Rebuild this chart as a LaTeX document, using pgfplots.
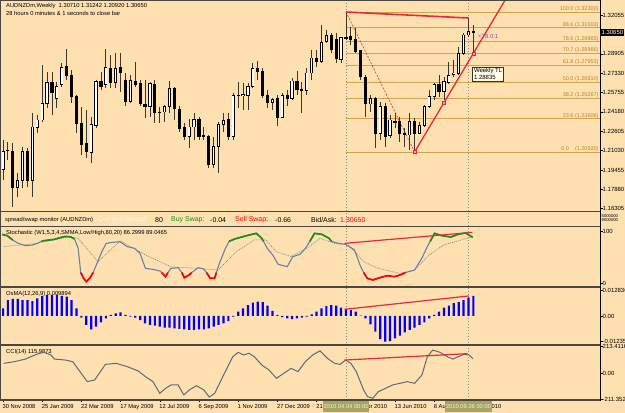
\documentclass[border=0pt]{standalone}
\usepackage{pgfplots}
\pgfplotsset{compat=1.18}
\usepackage{pgfplotstable}
\usepackage{fontspec}
\setmainfont{Liberation Sans}
\newcommand\fs[1]{\fontsize{#1}{#1}\selectfont}
\definecolor{bgc}{HTML}{FFE0B0}
\definecolor{fibc}{HTML}{D4A24C}
\definecolor{fibt}{HTML}{B8862A}
\definecolor{tlred}{HTML}{E8283C}
\definecolor{pinkf}{HTML}{F4A0A8}
\definecolor{stblue}{HTML}{6683A6}
\definecolor{stgreen}{HTML}{1E8C1E}
\definecolor{ccic}{HTML}{5F6A76}
\definecolor{olivebox}{HTML}{A5A463}
\definecolor{olivetext}{HTML}{F6F2D2}
\definecolor{sepc}{HTML}{4A4640}
\definecolor{wick}{HTML}{3A3630}
\definecolor{purp}{HTML}{A040A8}
\definecolor{pale}{HTML}{FFF3E2}
\definecolor{tlbox}{HTML}{FFFBE6}

\pgfplotstableread{
i o h l c
0 1.1946 1.2189 1.1864 1.2092
1 1.2100 1.2173 1.2027 1.2108
2 1.2092 1.2165 1.1645 1.1807
3 1.1807 1.1921 1.1726 1.1864
4 1.1864 1.2133 1.1799 1.2092
5 1.2092 1.2124 1.1807 1.1864
6 1.1864 1.2409 1.1726 1.2295
7 1.2287 1.2392 1.2246 1.2352
8 1.2352 1.2799 1.2336 1.2490
9 1.2490 1.2742 1.2449 1.2653
10 1.2653 1.2742 1.2392 1.2572
11 1.2523 1.2661 1.2449 1.2628
12 1.2637 1.2815 1.2620 1.2775
13 1.2783 1.2929 1.2677 1.2710
14 1.2710 1.2758 1.2490 1.2539
15 1.2547 1.2555 1.2246 1.2327
16 1.2327 1.2458 1.2067 1.2149
17 1.2157 1.2433 1.2043 1.2092
18 1.2084 1.2376 1.2002 1.2319
19 1.2311 1.2677 1.2287 1.2661
20 1.2669 1.2742 1.2596 1.2628
21 1.2637 1.2929 1.2612 1.2775
22 1.2767 1.2880 1.2612 1.2653
23 1.2653 1.2897 1.2612 1.2767
24 1.2775 1.2897 1.2580 1.2734
25 1.2677 1.2734 1.2466 1.2506
26 1.2506 1.2718 1.2490 1.2677
27 1.2669 1.2824 1.2620 1.2637
28 1.2645 1.2677 1.2466 1.2490
29 1.2482 1.2677 1.2368 1.2458
30 1.2458 1.2661 1.2376 1.2645
31 1.2637 1.2677 1.2327 1.2409
32 1.2409 1.2458 1.2327 1.2417
33 1.2417 1.2474 1.2336 1.2458
34 1.2458 1.2669 1.2409 1.2612
35 1.2612 1.2620 1.2352 1.2449
36 1.2441 1.2466 1.2255 1.2279
37 1.2287 1.2327 1.2189 1.2214
38 1.2214 1.2360 1.2124 1.2295
39 1.2295 1.2409 1.2189 1.2360
40 1.2360 1.2376 1.2189 1.2214
41 1.2222 1.2295 1.2189 1.2214
42 1.2214 1.2230 1.1962 1.1994
43 1.1994 1.2214 1.1962 1.2133
44 1.2133 1.2336 1.1921 1.2319
45 1.2319 1.2409 1.2255 1.2344
46 1.2360 1.2409 1.2189 1.2214
47 1.2214 1.2572 1.2189 1.2555
48 1.2555 1.2661 1.2449 1.2547
49 1.2547 1.2653 1.2433 1.2563
50 1.2555 1.2653 1.2433 1.2628
51 1.2628 1.2815 1.2612 1.2767
52 1.2767 1.2832 1.2677 1.2750
53 1.2750 1.2775 1.2531 1.2555
54 1.2555 1.2596 1.2449 1.2498
55 1.2498 1.2531 1.2433 1.2515
56 1.2523 1.2555 1.2303 1.2376
57 1.2376 1.2572 1.2368 1.2555
58 1.2555 1.2596 1.2466 1.2523
59 1.2523 1.2694 1.2515 1.2669
60 1.2669 1.2750 1.2555 1.2596
61 1.2604 1.2661 1.2409 1.2588
62 1.2588 1.2775 1.2555 1.2734
63 1.2734 1.2921 1.2677 1.2856
64 1.2856 1.2921 1.2783 1.2824
65 1.2824 1.3124 1.2815 1.2986
66 1.2994 1.3084 1.2978 1.3035
67 1.3035 1.3059 1.2897 1.2921
68 1.3003 1.3059 1.2815 1.2848
69 1.2840 1.3027 1.2815 1.3019
70 1.3015 1.3230 1.3003 1.3023
71 1.3027 1.3108 1.2962 1.3003
72 1.3003 1.3100 1.2897 1.2905
73 1.2913 1.2921 1.2677 1.2702
74 1.2694 1.2718 1.2376 1.2482
75 1.2482 1.2555 1.2417 1.2523
76 1.2523 1.2539 1.2124 1.2246
77 1.2246 1.2498 1.2189 1.2458
78 1.2458 1.2490 1.2133 1.2214
79 1.2222 1.2392 1.2206 1.2352
80 1.2332 1.2409 1.2287 1.2336
81 1.2336 1.2376 1.2173 1.2246
82 1.2246 1.2287 1.2133 1.2230
83 1.2230 1.2409 1.2108 1.2336
84 1.2336 1.2368 1.2092 1.2246
85 1.2246 1.2336 1.2238 1.2311
86 1.2311 1.2474 1.2295 1.2458
87 1.2458 1.2596 1.2449 1.2539
88 1.2539 1.2653 1.2515 1.2637
89 1.2637 1.2718 1.2539 1.2580
90 1.2580 1.2702 1.2515 1.2661
91 1.2653 1.2824 1.2645 1.2710
92 1.2718 1.2840 1.2702 1.2734
93 1.2726 1.2946 1.2718 1.2889
94 1.2889 1.3059 1.2880 1.3043
95 1.3043 1.3181 1.3027 1.3068
96 1.3071 1.3124 1.2892 1.3065
}\candles

\pgfplotstableread{
i v
0 0.0038
1 0.0079
2 0.0084
3 0.0084
4 0.0079
5 0.0079
6 0.0074
7 0.0087
8 0.0099
9 0.0104
10 0.0104
11 0.0104
12 0.0099
13 0.0096
14 0.0079
15 0.0038
16 -0.0008
17 -0.0044
18 -0.0066
19 -0.0053
20 -0.0031
21 -0.0012
22 0.0005
23 0.0013
24 0.0018
25 0.0005
26 -0.0003
27 -0.0008
28 -0.0020
29 -0.0036
30 -0.0044
31 -0.0048
32 -0.0053
33 -0.0058
34 -0.0058
35 -0.0061
36 -0.0064
37 -0.0066
38 -0.0069
39 -0.0069
40 -0.0066
41 -0.0066
42 -0.0061
43 -0.0053
44 -0.0044
45 -0.0036
46 -0.0025
47 -0.0003
48 0.0021
49 0.0038
50 0.0054
51 0.0066
52 0.0071
53 0.0068
54 0.0051
55 0.0025
56 0.0005
57 -0.0005
58 -0.0012
59 -0.0015
60 -0.0012
61 -0.0008
62 -0.0003
63 0.0008
64 0.0021
65 0.0038
66 0.0049
67 0.0054
68 0.0051
69 0.0041
70 0.0035
71 0.0030
72 0.0021
73 0.0002
74 -0.0012
75 -0.0041
76 -0.0077
77 -0.0114
78 -0.0127
79 -0.0124
80 -0.0110
81 -0.0097
82 -0.0081
83 -0.0069
84 -0.0058
85 -0.0044
86 -0.0031
87 -0.0012
88 0.0005
89 0.0021
90 0.0041
91 0.0051
92 0.0063
93 0.0068
94 0.0079
95 0.0091
96 0.0099
}\osma

\pgfplotsset{
  panel/.style={anchor=south west, scale only axis, width=598bp,
    xmin=-0.204, xmax=121.84, axis line style={draw=none},
    xtick=\empty, ytick pos=right, yticklabel pos=right,
    tick align=outside, major tick length=2.5bp,
    tick style={black, line width=0.5bp},
    yticklabel style={font=\fs{6}, anchor=west, inner sep=0pt, xshift=0bp},
    scaled y ticks=false, clip=true},
}
\tikzset{
  vl/.style={black!45, dash pattern=on 1.5bp off 1.5bp, line width=0.5bp},
  fib/.style={fibc, line width=0.9bp},
  fiblab/.style={anchor=south east, inner sep=0.3bp, font=\fs{5.5}, text=fibt},
  stg/.style={stgreen, line width=1.7bp},
  str/.style={red, line width=1.7bp},
  small/.style={anchor=west, inner sep=0pt, font=\fs{5.8}},
  mid/.style={anchor=west, inner sep=0pt, font=\fs{7}},
}

\begin{document}
\begin{tikzpicture}
\useasboundingbox (0,0) rectangle (625bp,413bp);
\fill[bgc] (0,0) rectangle (625bp,413bp);

% indicator titles (drawn under the plots)
\node[small] at (6bp,179.7bp) {Stochastic (W1,5,3,4,SMMA,Low/High,80,20) 86.2999 89.0465};
\node[small] at (6bp,118.5bp) {OsMA(12,26,9) 0.009894};
\node[small] at (6bp,61bp) {CCI(14) 115.9873};

% vertical dashed time lines through all windows
\begin{axis}[panel, at={(2bp,13bp)}, height=398bp, ymin=0, ymax=1, ytick=\empty]
\addplot[vl] coordinates {(70,0) (70,1)};
\addplot[vl] coordinates {(95,0) (95,1)};
\end{axis}

% ---------------- main price window ----------------
\begin{axis}[panel, at={(2bp,201.5bp)}, height=209.5bp, ymin=1.16081, ymax=1.33113,
  ytick={1.16305,1.17880,1.19455,1.21030,1.22605,1.24180,1.25755,1.27330,1.28905,1.30480,1.32055},
  yticklabels={1.16305,1.17880,1.19455,1.21030,1.22605,1.24180,1.25755,1.27330,1.28905,1.30480,1.32055}]
\addplot[fib] coordinates {(70,1.32300) (125,1.32300)};
\addplot[fib] coordinates {(70,1.31003) (125,1.31003)};
\addplot[fib] coordinates {(70,1.29865) (125,1.29865)};
\addplot[fib] coordinates {(70,1.28966) (125,1.28966)};
\addplot[fib] coordinates {(70,1.27953) (125,1.27953)};
\addplot[fib] coordinates {(70,1.26610) (125,1.26610)};
\addplot[fib] coordinates {(70,1.25267) (125,1.25267)};
\addplot[fib] coordinates {(70,1.23606) (125,1.23606)};
\addplot[fib] coordinates {(70,1.20920) (125,1.20920)};
\addplot[tlred, line width=0.6bp, dash pattern=on 2bp off 1.5bp] coordinates {(70,1.3230) (84,1.2092)};
% wicks
\addplot[draw=none, mark=none, error bars/.cd, y dir=minus, y explicit, error mark=none,
  error bar style={draw=wick, solid, line width=0.9bp}]
  table[x=i, y=h, y error minus expr=\thisrow{h}-\thisrow{l}] {\candles};
% bodies (outline / black)
\addplot[draw=none, mark=none, error bars/.cd, y dir=minus, y explicit, error mark=none,
  error bar style={draw=black, solid, line width=3.2bp}]
  table[x=i, y expr={max(\thisrow{o},\thisrow{c})+0.0004}, y error minus expr={abs(\thisrow{o}-\thisrow{c})+0.0008}] {\candles};
% white interior of rising candles
\addplot[draw=none, mark=none, restrict expr to domain={\thisrow{c}-\thisrow{o}}{0.00001:1},
  error bars/.cd, y dir=minus, y explicit, error mark=none,
  error bar style={draw=white, solid, line width=1.6bp}]
  table[x=i, y expr={\thisrow{c}-0.0004}, y error minus expr={max(\thisrow{c}-\thisrow{o}-0.0008,0)}] {\candles};
\addplot[tlred, line width=1.6bp] coordinates {(70,1.3230) (95,1.3181)};
\addplot[tlred, line width=1.3bp] coordinates {(84,1.2092) (104,1.3429)};
\addplot[only marks, mark=square*, mark size=1.5bp, mark options={draw=tlred, fill=pinkf, line width=0.6bp, solid}]
  coordinates {(84,1.2092) (90,1.2493) (96,1.2894)};
\end{axis}

% ---------------- stochastic ----------------
\begin{axis}[panel, at={(2bp,126bp)}, height=60.3bp, ymin=-7.7, ymax=108.3,
  ytick={0,100}, yticklabels={0,100}]
\addplot[black!50, line width=0.6bp, dash pattern=on 1bp off 1bp] coordinates {
(0.13,70) (6.8,76) (13.5,89) (15.3,86) (19.4,41) (23.9,81) (29.1,54) (34.3,31) (40.2,28) (43.9,25)
(47.6,60) (51.3,83) (53.6,83) (55.8,60) (58.8,51) (62.5,70) (64.7,86) (67.7,76) (70.6,73) (73.6,41)
(76.6,28) (81,18.6) (84,25) (87,54) (89.9,73) (93.6,83) (95.9,89)};
\addplot[stblue, line width=1.1bp] coordinates {
(-0.24,93.6) (0.87,91.0) (1.99,82.7) (3.10,76.3) (4.58,71.8) (6.07,73.1) (7.18,76.9) (7.92,80.8)
(9.41,82.7) (10.52,84.0) (11.63,87.2) (12.75,89.7) (13.86,88.5) (14.60,84.6) (15.34,66.7) (15.86,20)
(16.46,9.0) (17.05,2.6) (17.79,10.3) (18.39,20) (19.05,34.6) (20.17,60.3) (21.06,76.3) (22.39,78.2)
(23.88,79.5) (25.36,69.9) (26.85,66.7) (27.96,57.0) (29.07,28.2) (30.56,26.3) (32.04,23.1) (32.41,20)
(33.15,12.2) (33.67,20) (34.27,28.2) (35.75,29.5) (36.49,20) (37.01,10.3) (37.98,15.4) (38.50,20)
(39.83,29.5) (40.95,26.9) (41.54,20) (42.28,9.0) (43.17,9.0) (43.54,20) (44.29,41.0) (45.40,66.7)
(46.14,80) (47.25,84.6) (48.74,88.5) (50.22,92.3) (51.71,95.5) (52.82,85.9) (53.19,80) (53.93,66.7)
(55.05,53.8) (56.16,35.9) (58.01,31.4) (59.13,50.6) (60.61,55.1) (61.73,66.7) (62.62,80) (63.58,95.5)
(65.06,93.6) (66.55,85.9) (67.07,80) (68.40,76.3) (69.89,74.4) (71.74,63.5) (72.86,34.6) (73.6,20)
(74.34,9.0) (75.46,5.8) (76.94,10.3) (78.42,14.1) (79.91,12.2) (81.39,16.7) (82.13,20) (83.99,25.0)
(85.47,47.4) (86.59,69.9) (87.18,80) (88.07,95.5) (89.56,91.0) (91.41,88.5) (92.90,93.6) (94.38,96.2) (95.86,88)};
\addplot[stg] coordinates {(-0.24,93.6) (0.87,91.0) (1.99,82.7)};
\addplot[stg] coordinates {(7.92,80.8) (9.41,82.7) (10.52,84.0) (11.63,87.2) (12.75,89.7) (13.86,88.5) (14.60,84.6)};
\addplot[stg] coordinates {(46.14,80) (47.25,84.6) (48.74,88.5) (50.22,92.3) (51.71,95.5) (52.82,85.9) (53.19,80)};
\addplot[stg] coordinates {(62.62,80) (63.58,95.5) (65.06,93.6) (66.55,85.9) (67.07,80)};
\addplot[stg] coordinates {(87.18,80) (88.07,95.5) (89.56,91.0) (91.41,88.5) (92.90,93.6) (94.38,96.2) (95.86,88)};
\addplot[str] coordinates {(15.86,20) (16.46,9.0) (17.05,2.6) (17.79,10.3) (18.39,20)};
\addplot[str] coordinates {(32.41,20) (33.15,12.2) (33.67,20)};
\addplot[str] coordinates {(36.49,20) (37.01,10.3) (37.98,15.4) (38.50,20)};
\addplot[str] coordinates {(41.54,20) (42.28,9.0) (43.17,9.0) (43.54,20)};
\addplot[str] coordinates {(73.6,20) (74.34,9.0) (75.46,5.8) (76.94,10.3) (78.42,14.1) (79.91,12.2) (81.39,16.7) (82.13,20)};
\addplot[tlred, line width=1.2bp] coordinates {(69.7,76.3) (95.8,97.4)};
\end{axis}

% ---------------- OsMA ----------------
\begin{axis}[panel, at={(2bp,68bp)}, height=58bp, ymin=-0.014326, ymax=0.014326,
  ytick={-0.01235,0,0.012836}, yticklabels={-0.01235,0.00,0.012836}]
\addplot[ybar, bar shift=0pt, bar width=2.2bp, fill=blue, draw=none] table[x=i, y=v] {\osma};
\addplot[tlred, line width=1.2bp] coordinates {(69.7,0.0033) (95.1,0.0099)};
\end{axis}

% ---------------- CCI ----------------
\begin{axis}[panel, at={(2bp,13bp)}, height=55bp, ymin=-219, ymax=227.1,
  ytick={-211.352,0,213.4116}, yticklabels={-211.352,0.00,213.4116},
  xtick={0,8,16,24,32,40,48,56,64,72,80,88,96}, xtick pos=bottom,
  xticklabels={30 Nov 2008,25 Jan 2009,22 Mar 2009,17 May 2009,12 Jul 2009,6 Sep 2009,1 Nov 2009,27 Dec 2009,21 Feb 2010,18 Apr 2010,13 Jun 2010,8 Aug 2010,3 Oct 2010},
  xticklabel style={font=\fs{5.8}, anchor=north west, inner sep=0pt, xshift=-0.5bp, yshift=-1.8bp}]
\addplot[ccic, line width=1bp] coordinates {
(0.13,78) (2.36,92) (4.58,113) (6.81,151) (8.29,168) (9.8,146) (10.5,113) (12.75,105) (14.23,92)
(17.2,-70) (18.7,-57) (20.9,70) (23.1,78) (25.4,51) (27.6,16) (29.1,-30) (30.6,-70) (32.0,-165)
(33.2,-124) (34.3,-97) (35.75,-97) (36.9,-178) (38.0,-138) (39.5,-103) (41.0,-138) (42.1,-195)
(43.2,-165) (44.7,-43) (46.9,132) (48.0,168) (49.1,146) (50.2,160) (51.3,132) (52.8,65) (54.3,24)
(55.8,-43) (57.3,-3) (58.8,38) (60.2,11) (61.7,92) (63.2,146) (64.7,180) (66.2,119) (67.7,78)
(68.8,70) (69.9,105) (71.0,78) (72.1,11) (73.6,-138) (74.4,-192) (75.5,-205) (76.6,-151) (78.1,-124)
(79.5,-97) (81.0,-84) (82.5,-70) (84.0,-84) (85.5,-16) (86.6,132) (87.7,186) (89.2,168) (90.7,132)
(91.8,113) (92.9,132) (94.0,151) (95.1,146) (95.9,116)};
\addplot[tlred, line width=1.2bp] coordinates {(69.7,105) (94.8,157)};
\end{axis}

% ---------------- frames ----------------
\draw[sepc, line width=1.4bp] (0bp,201.5bp) -- (600bp,201.5bp);
\draw[sepc, line width=1.4bp] (0bp,186.3bp) -- (600bp,186.3bp);
\draw[sepc, line width=1.4bp] (0bp,126bp) -- (600bp,126bp);
\draw[sepc, line width=1.4bp] (0bp,68bp) -- (600bp,68bp);
\draw[sepc, line width=1.2bp] (0bp,13bp) -- (600bp,13bp);
\draw[black, line width=0.8bp] (600bp,12.4bp) -- (600bp,413bp);
\draw[sepc, line width=0.8bp] (0.4bp,13bp) -- (0.4bp,413bp);
\draw[sepc, line width=0.8bp] (0bp,412.6bp) -- (600bp,412.6bp);

% ---------------- texts ----------------
\node[small] at (6bp,406.7bp) {AUDNZDm,Weekly\ \ 1.30710 1.31242 1.20920 1.30650};
\node[small] at (6bp,399.5bp) {28 hours 0 minutes \& 1 seconds to close bar};

\node[fiblab] at (599bp,401bp) {100.0 (1.32300)};
\node[fiblab] at (599bp,385bp) {88.6 (1.31003)};
\node[fiblab] at (599bp,371bp) {78.6 (1.29865)};
\node[fiblab] at (599bp,360bp) {70.7 (1.28966)};
\node[fiblab] at (599bp,347.5bp) {61.8 (1.27953)};
\node[fiblab] at (599bp,331bp) {50.0 (1.26610)};
\node[fiblab] at (599bp,314.5bp) {38.2 (1.25267)};
\node[fiblab] at (599bp,294.1bp) {23.6 (1.23606)};
\node[fiblab] at (599bp,261bp) {0.0\ \ \ \ (1.20920)};

\node[anchor=north west, draw=black!80, line width=0.5bp, fill=tlbox, inner sep=1.5bp, align=left,
  font=\fontsize{6}{7.2}\selectfont] at (472.3bp,346.3bp) {Weekly TL\\1.28835};
\node[anchor=west, inner sep=0pt, font=\fs{6}, text=purp] at (478bp,377bp) {<78.0:1};

\node[anchor=west, fill=black, text=white, inner xsep=1bp, inner ysep=1.2bp, font=\fs{6}] at (600.4bp,380.7bp) {1.30650};

% spread / swap monitor line
\node[small] at (5bp,193bp) {spread/swap monitor (AUDNZDm)};
\node[mid, text=pale] at (98bp,193bp) {Current Spread:};
\node[mid] at (155bp,193bp) {80};
\node[mid, text=stgreen] at (171bp,193bp) {Buy Swap:};
\node[mid] at (210bp,193bp) {-0.04};
\node[mid, text=red] at (235bp,193bp) {Sell Swap:};
\node[mid] at (275bp,193bp) {-0.66};
\node[mid] at (311bp,193bp) {Bid/Ask:};
\node[mid, text=red] at (340bp,193bp) {1.30650};
\node[anchor=west, inner sep=0pt, font=\fs{4.2}] at (601.5bp,196.5bp) {5000000};
\node[anchor=west, inner sep=0pt, font=\fs{4.2}] at (601.5bp,192.8bp) {9000000};

% time labels of the vertical lines
\node[fill=olivebox, text=olivetext, font=\fs{5.8}, inner xsep=0.8bp, minimum height=11bp] at (346bp,6.5bp) {2010.04.04 00:00};
\node[fill=olivebox, text=olivetext, font=\fs{5.8}, inner xsep=0.8bp, minimum height=11bp] at (468.5bp,6.5bp) {2010.09.26 00:00};
\end{tikzpicture}
\end{document}
